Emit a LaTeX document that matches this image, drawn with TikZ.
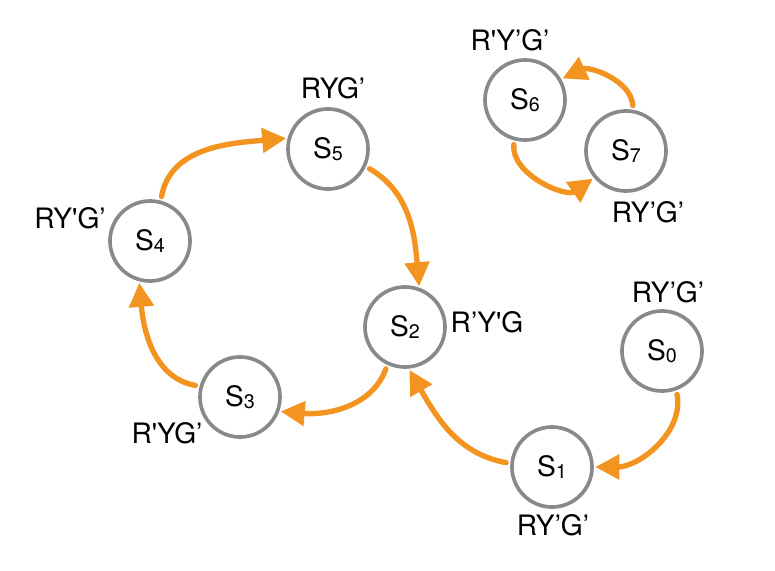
\documentclass[tikz,border=0pt]{standalone}
\usepackage{fontspec}
\setmainfont{TeX Gyre Heros}
\usepackage{tikz}
\usetikzlibrary{arrows.meta}
\definecolor{ring}{RGB}{135,137,141}
\definecolor{flow}{RGB}{243,147,32}
\newcommand{\stname}[1]{S\raisebox{-1.5pt}{\fontsize{14}{14}\selectfont #1}}
\newcommand{\sq}{\textquotesingle}

\begin{document}
\begin{tikzpicture}[x=0.025cm, y=-0.025cm,
  state/.style={circle, draw=ring, line width=2.6pt, minimum size=2.0cm, inner sep=0pt, font=\fontsize{20}{24}\selectfont},
  tag/.style={font=\fontsize{20}{24}\selectfont, inner sep=0pt},
  move/.style={-{Triangle[length=0.6cm, width=0.6cm]}, flow, line width=3.8pt, line cap=round, shorten <=3pt, shorten >=1pt}]
\useasboundingbox (0,0) rectangle (775,571);
\node (s5) [state] at (328,149) {\stname{5}};
\node (s4) [state] at (150,241) {\stname{4}};
\node (s3) [state] at (240,397) {\stname{3}};
\node (s2) [state] at (405,327) {\stname{2}};
\node (s6) [state] at (525,100) {\stname{6}};
\node (s7) [state] at (626,151) {\stname{7}};
\node (s0) [state] at (662,351) {\stname{0}};
\node (s1) [state] at (552,467) {\stname{1}};

\node (t5) [tag] at (333,88) {RYG'};
\node (t4) [tag] at (70,218) {RY\sq G'};
\node (t3) [tag] at (167,433) {R\sq YG'};
\node (t2) [tag] at (487,322) {R'Y\sq G};
\node (t6) [tag] at (510,40) {R\sq Y'G'};
\node (t7) [tag] at (648,212) {RY'G'};
\node (t0) [tag] at (668,292) {RY'G'};
\node (t1) [tag] at (553,525) {RY'G'};

\draw [move] (s4.75) to[out=80, in=185] (s5.165);
\draw [move] (s5.-25) to[out=-30, in=95] (s2.70);
\draw [move] (s2.-115) to[out=-110, in=-5] (s3.-20);
\draw [move] (s3.165) to[out=170, in=-85] (s4.-105);
\draw [move] (s0.-70) to[out=-80, in=0] (s1.east);
\draw [move] (s1.175) to[out=170, in=-60] (s2.-85);
\draw [move] (s6.-105) to[out=-95, in=215] (s7.220);
\draw [move] (s7.80) to[out=95, in=25] (s6.30);
\end{tikzpicture}
\end{document}
